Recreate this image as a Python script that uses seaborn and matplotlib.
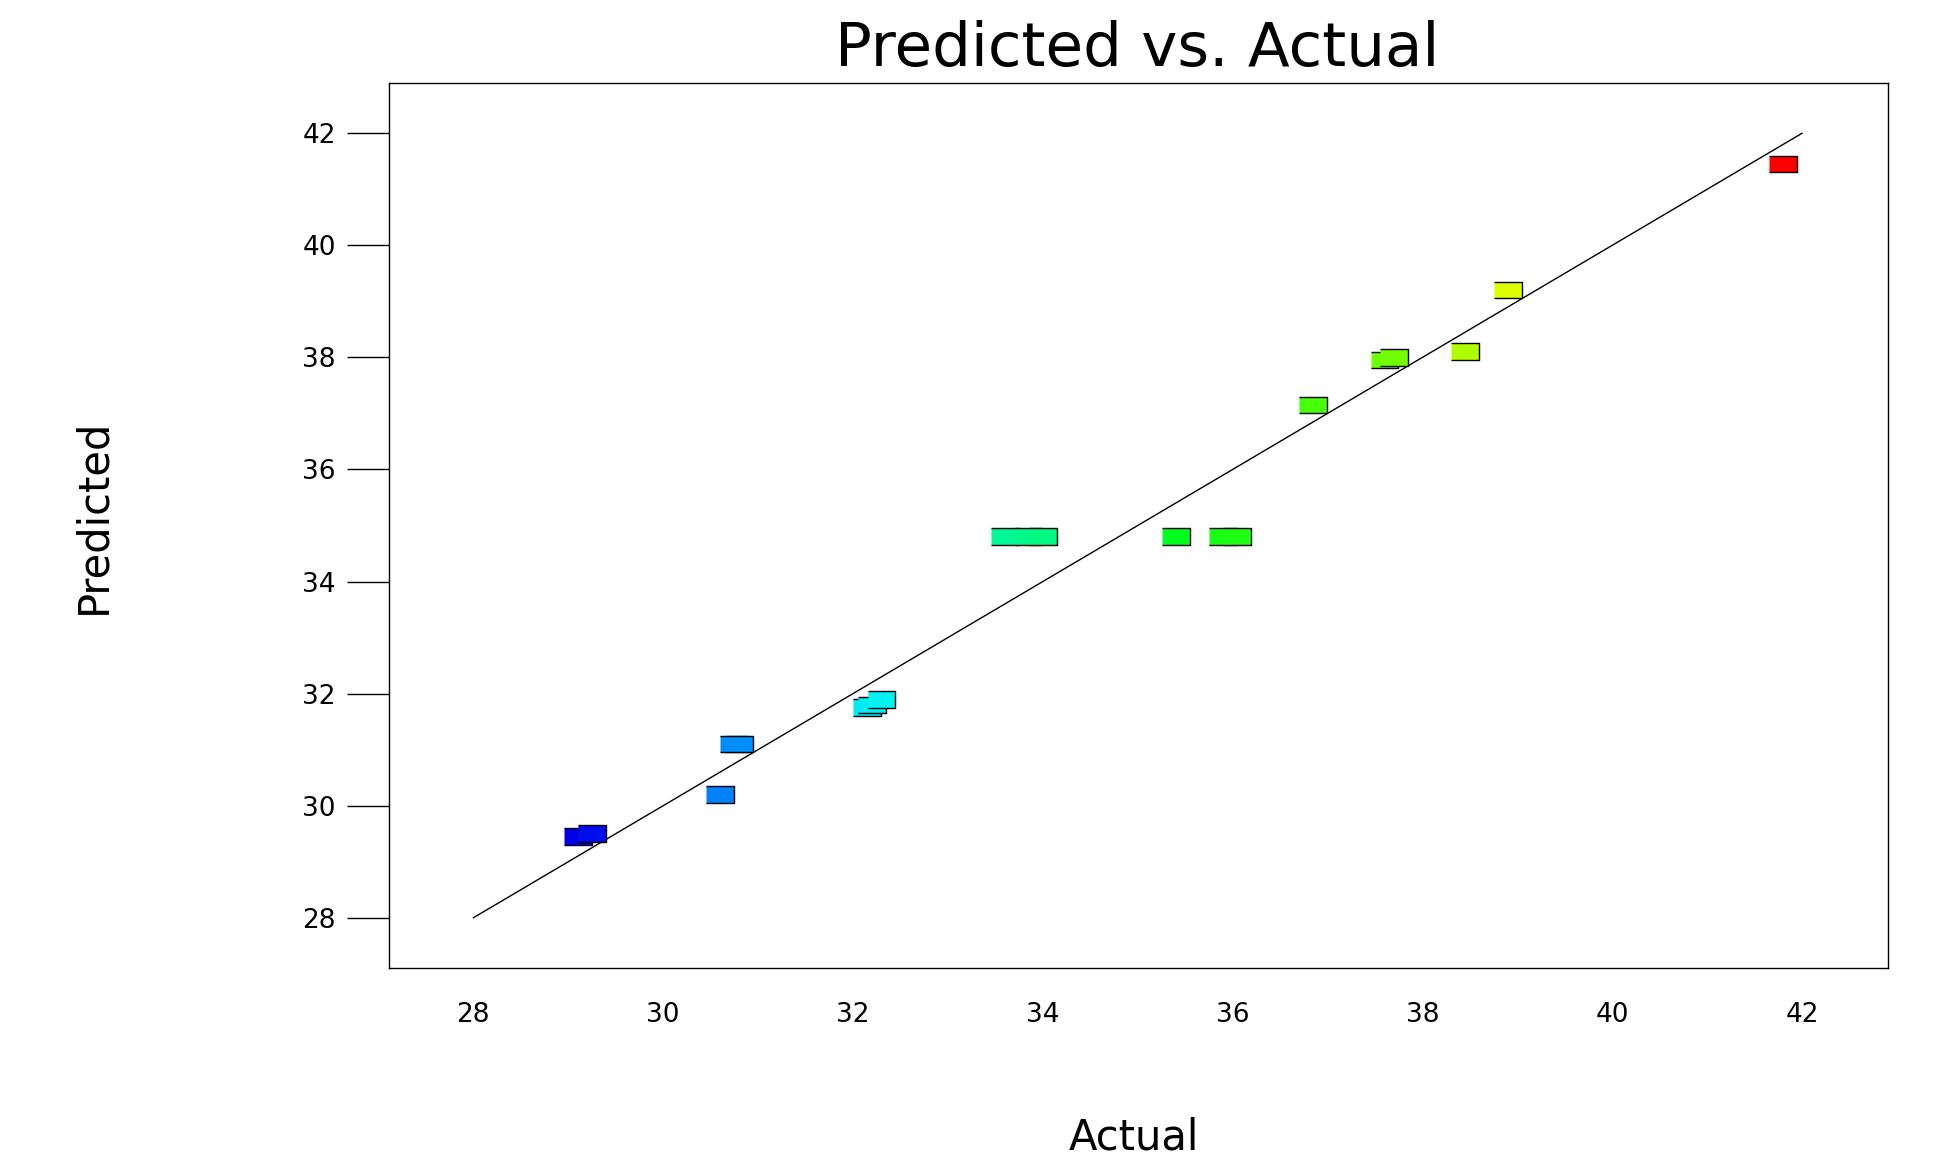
import matplotlib
matplotlib.use("Agg")
import matplotlib.pyplot as plt
import seaborn as sns
import pandas as pd
import numpy as np
from matplotlib.colors import LinearSegmentedColormap, Normalize

actual = [29.1, 29.25, 30.6, 30.75, 30.8, 32.15, 32.2, 32.3, 33.6, 33.85, 34.0,
          35.4, 35.9, 36.05, 36.85, 37.6, 37.7, 38.45, 38.9, 41.8]
predicted = [29.45, 29.5, 30.2, 31.1, 31.1, 31.75, 31.8, 31.9, 34.8, 34.8, 34.8,
             34.8, 34.8, 34.8, 37.15, 37.95, 38.0, 38.1, 39.2, 41.45]
ticks = [28, 30, 32, 34, 36, 38, 40, 42]

sns.set_theme(style="white")
plt.rcParams['font.family'] = ['DejaVu Sans']
plt.rcParams['text.color'] = 'black'

df = pd.DataFrame({"Actual": actual, "Predicted": predicted})
cmap = LinearSegmentedColormap.from_list("rb", [(0.0, (0, 0, 0.9)), (0.1, (0, 0.45, 1)),
                                                (0.25, (0, 0.95, 0.95)), (0.5, (0, 1, 0.1)),
                                                (0.7, (0.5, 1, 0)), (0.8, (1, 1, 0)), (1.0, (1, 0, 0))])
norm = Normalize(29.1, 41.8)
df["c"] = df["Actual"]

fig = plt.figure(figsize=(19.38, 11.73), dpi=100)
ax = fig.add_axes([0.2006, 0.175, 0.7734, 0.754])
rect = [(-1, -0.6), (1, -0.6), (1, 0.6), (-1, 0.6)]
sns.scatterplot(data=df, x="Actual", y="Predicted", hue="c", palette=cmap, hue_norm=norm,
                marker=rect, s=400, edgecolor="black", linewidth=1, legend=False, ax=ax, zorder=3)
ax.plot([28, 42], [28, 42], color="black", lw=1, zorder=2)
ax.set_xlim(27.11, 42.9)
ax.set_ylim(27.11, 42.89)
ax.set_xticks(ticks)
ax.set_yticks(ticks)
ax.tick_params(axis="y", direction="out", length=30, width=1, color="black", labelsize=19,
               labelcolor="black", pad=8, left=True)
ax.tick_params(axis="x", length=0, labelsize=19, labelcolor="black", pad=25)
for s in ax.spines.values():
    s.set_color("black"); s.set_linewidth(1)
ax.set_xlabel("")
ax.set_ylabel("")
fig.text(0.585, 0.03, "Actual", ha="center", va="center", fontsize=30, color="black")
fig.text(0.048, 0.56, "Predicted", ha="center", va="center", rotation=90, fontsize=30, color="black")
fig.text(0.587, 0.958, "Predicted vs. Actual", ha="center", va="center", fontsize=44, color="black")
fig.savefig("out.png", dpi=100)
